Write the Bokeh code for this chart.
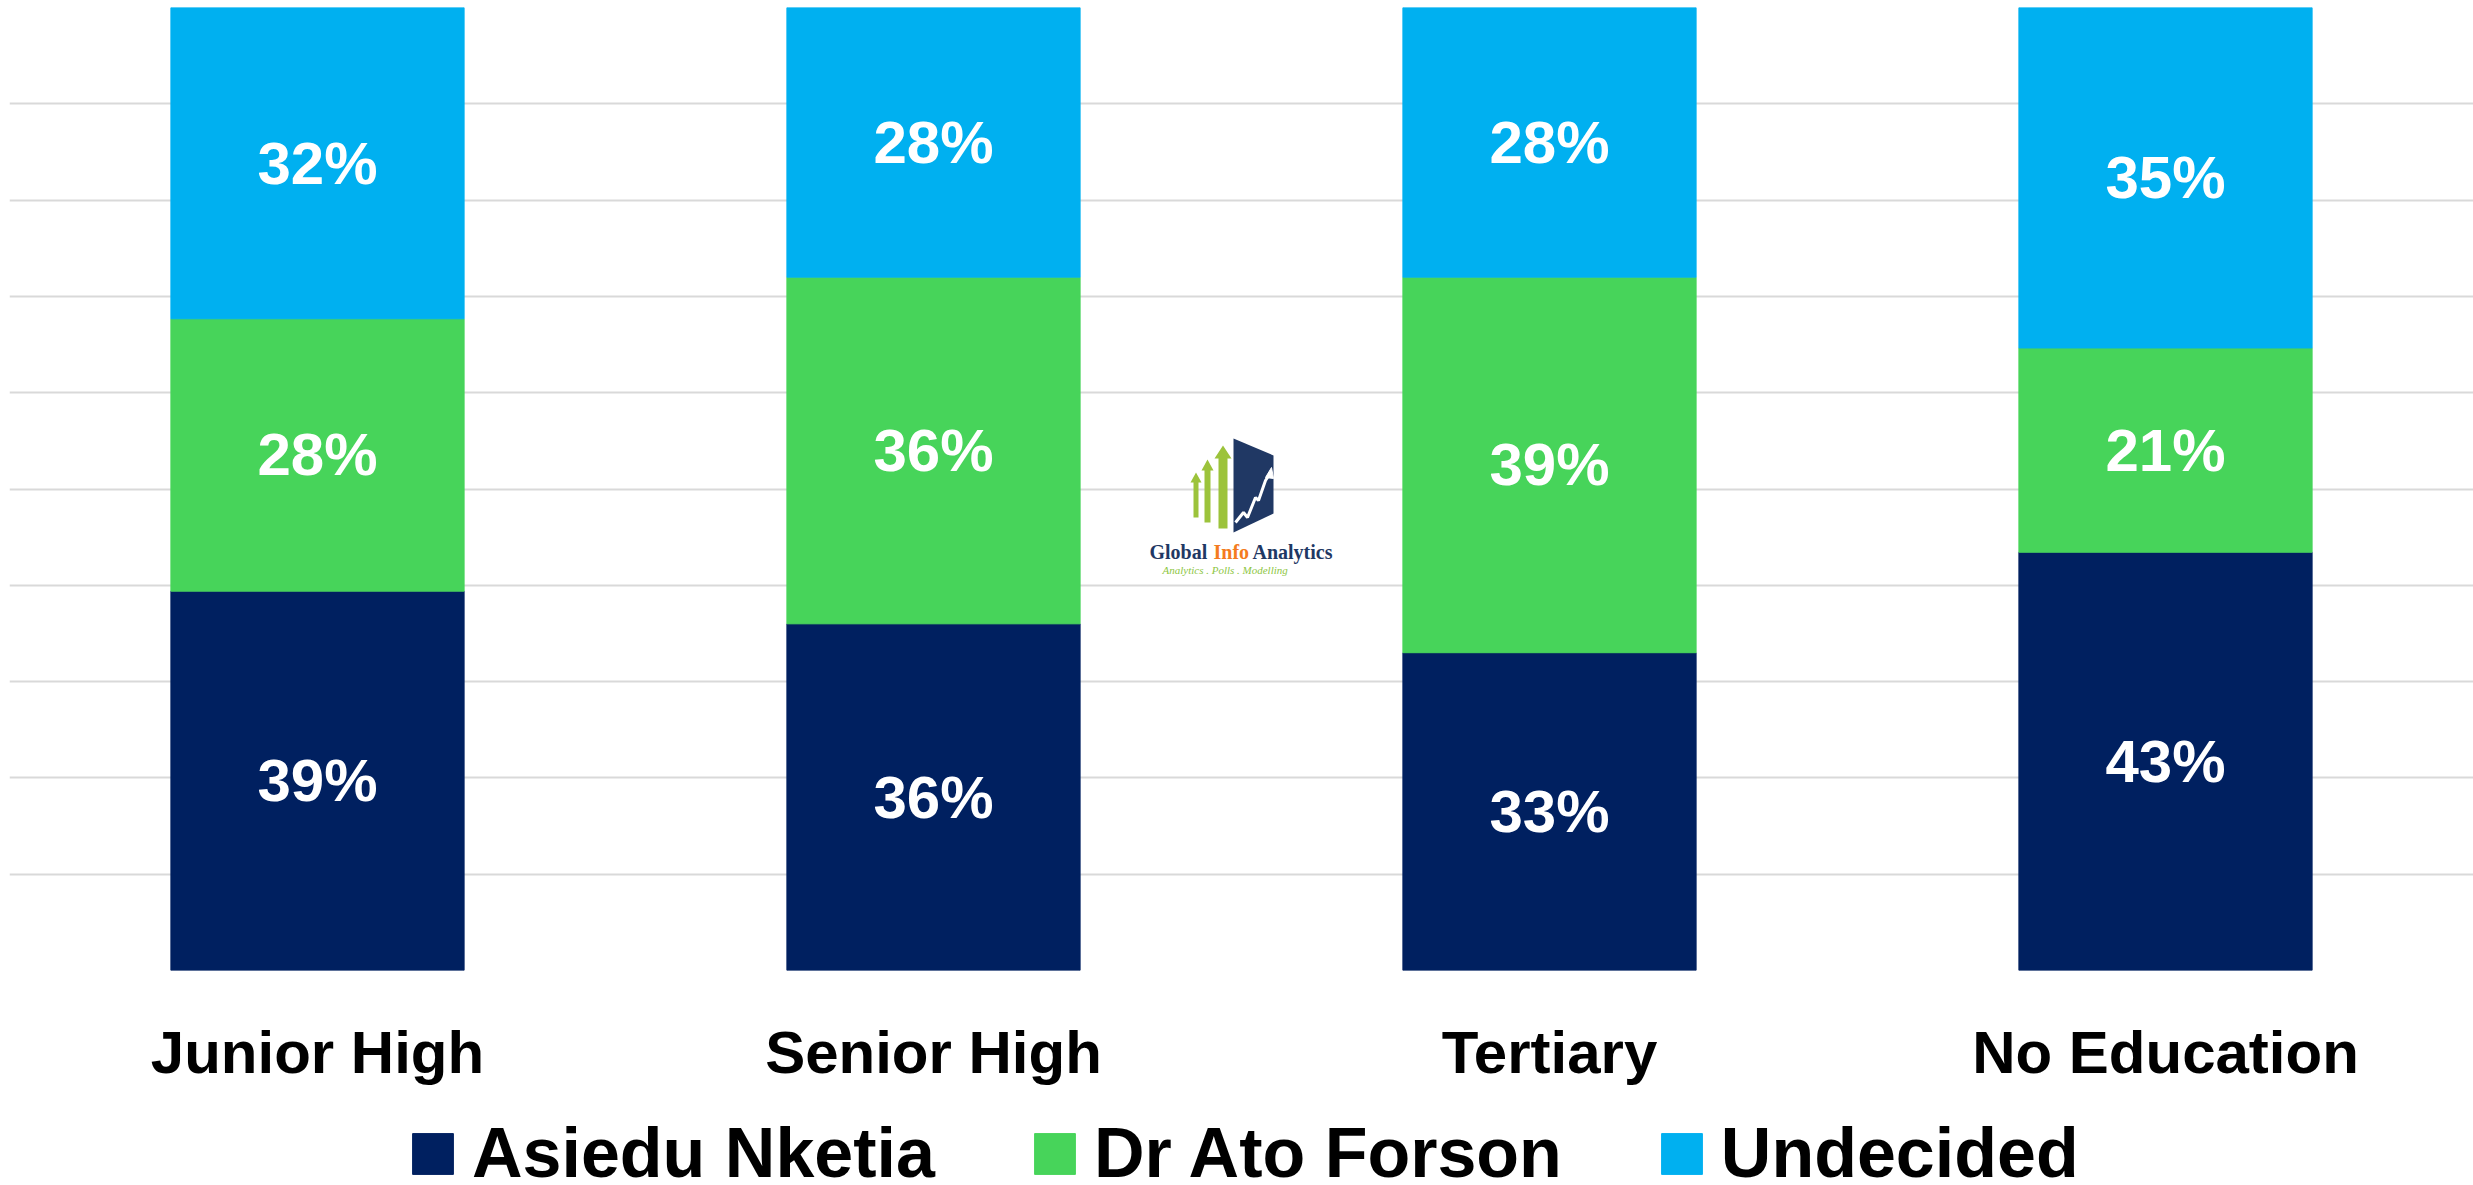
from bokeh.plotting import figure
from bokeh.layouts import column
from bokeh.models import FactorRange, Range1d, FixedTicker, Legend, LegendItem, ColumnDataSource
from bokeh.core.properties import value
from bokeh.embed import file_html
from bokeh.resources import INLINE

categories = ["Junior High", "Senior High", "Tertiary", "No Education"]
series = ["Asiedu Nketia", "Dr Ato Forson", "Undecided"]
asiedu = [39, 36, 33, 43]
forson = [28, 36, 39, 21]
undecided = [32, 28, 28, 35]
colors = ["#002060", "#47D45A", "#00B0F0"]
grid_ticks = [0.0, 0.1, 0.2, 0.3, 0.4, 0.5, 0.6, 0.7, 0.8, 0.9, 1.0]

keys = ["asiedu", "forson", "undecided"]
vals = [asiedu, forson, undecided]
totals = [sum(v) for v in zip(*vals)]
data = {"cat": categories}
for k, v in zip(keys, vals):
    data[k] = [a / t for a, t in zip(v, totals)]
src = ColumnDataSource(data)

lab_x, lab_y, lab_t = [], [], []
for i, c in enumerate(categories):
    base = 0.0
    for k, v in zip(keys, vals):
        f = data[k][i]
        lab_x.append(c)
        lab_y.append(base + f / 2)
        lab_t.append(f"{v[i]}%")
        base += f
lab_src = ColumnDataSource(dict(x=lab_x, y=lab_y, text=lab_t))

p = figure(x_range=FactorRange(*categories, range_padding=0), y_range=Range1d(0, 1),
           width=2473, height=1100, output_backend="svg", toolbar_location=None,
           min_border_left=9, min_border_right=0, min_border_top=7, min_border_bottom=130)
p.outline_line_color = None
p.background_fill_color = "white"
p.border_fill_color = "white"

rs = p.vbar_stack(keys, x="cat", width=0.476, color=colors, source=src)

p.text(x="x", y="y", text="text", source=lab_src, text_color="white",
       text_font=value("Liberation Sans"), text_font_style="bold",
       text_font_size=value("60px"), text_align="center", text_baseline="middle")

p.yaxis.visible = False
p.xgrid.grid_line_color = None
p.ygrid.ticker = FixedTicker(ticks=grid_ticks)
p.ygrid.grid_line_color = "#d9d9d9"
p.ygrid.grid_line_width = 2
p.ygrid.level = "underlay"

ax = p.xaxis[0]
ax.axis_line_color = None
ax.major_tick_line_color = None
ax.major_tick_out = 0
ax.major_tick_in = 0
ax.major_label_standoff = 48
ax.major_label_text_font = "Liberation Sans"
ax.major_label_text_font_style = "bold"
ax.major_label_text_font_size = "60px"
ax.major_label_text_color = "black"

# --- logo (decoration), positioned in pixel terms relative to the frame ---
def lx(px):
    return (px - 9) / 616.0

def ly(py):
    return (970 - py) / 963.0

arrows = [
    (1193, 1198, 517, 482, 1190, 1201, 1195.5, 472),
    (1204, 1210, 522, 470, 1201, 1213, 1207, 459),
    (1218, 1227, 528, 458, 1214, 1231, 1222.5, 445),
]
axs, ays = [], []
for x0, x1, yb, yh, hl, hr, xm, yt in arrows:
    pts = [(x0, yb), (x1, yb), (x1, yh), (hr, yh), (xm, yt), (hl, yh), (x0, yh)]
    axs.append([lx(a) for a, b in pts])
    ays.append([ly(b) for a, b in pts])
p.patches(axs, ays, fill_color="#9CC33B", line_color=None)

para = [(1233, 438), (1273, 455), (1273, 513), (1233, 532)]
p.patch([lx(a) for a, b in para], [ly(b) for a, b in para], fill_color="#203864", line_color=None)
zig = [(1235, 522), (1243, 512), (1247, 517), (1255, 497), (1258, 500), (1265, 480), (1269, 474)]
p.line([lx(a) for a, b in zig], [ly(b) for a, b in zig], line_color="white", line_width=3)
head = [(1271, 467), (1265, 477), (1273, 478)]
p.patch([lx(a) for a, b in head], [ly(b) for a, b in head], fill_color="white", line_color="white")

for txt, px, col in [("Global", 1149, "#1F3864"), ("Info", 1213, "#F47B20"), ("Analytics", 1252, "#1F3864")]:
    p.text(x=[lx(px)], y=[ly(551)], text=[txt], text_color=col, text_font=value("Liberation Serif"),
           text_font_style="bold", text_font_size=value("20px"), text_align="left", text_baseline="alphabetic")
p.text(x=[lx(1162)], y=[ly(569)], text=["Analytics . Polls . Modelling"], text_color="#8DC63F",
       text_font=value("Liberation Serif"), text_font_style="italic", text_font_size=value("11px"),
       text_align="left", text_baseline="alphabetic")

# --- legend strip below the chart ---
p2 = figure(x_range=Range1d(0, 1), y_range=Range1d(0, 1), width=2473, height=85,
            output_backend="svg", toolbar_location=None,
            min_border_left=0, min_border_right=0, min_border_top=0, min_border_bottom=0)
p2.axis.visible = False
p2.grid.visible = False
p2.outline_line_color = None
p2.border_fill_color = "white"
# swatch renderers kept outside the visible range; only their legend entries show
dummy = [p2.vbar(x=[5], top=[1], width=0.1, color=c) for c in colors]
legend = Legend(items=[LegendItem(label=value(s), renderers=[r]) for s, r in zip(series, dummy)],
                location=(398, -8), orientation="horizontal",
                glyph_width=51, glyph_height=51, label_standoff=14, spacing=94,
                padding=0, margin=0, border_line_color=None, background_fill_alpha=0,
                label_text_font="Liberation Sans", label_text_font_style="bold",
                label_text_font_size="70px", label_text_color="black")
p2.add_layout(legend)

open("out.html", "w").write(file_html(column(p, p2, spacing=0), INLINE))
